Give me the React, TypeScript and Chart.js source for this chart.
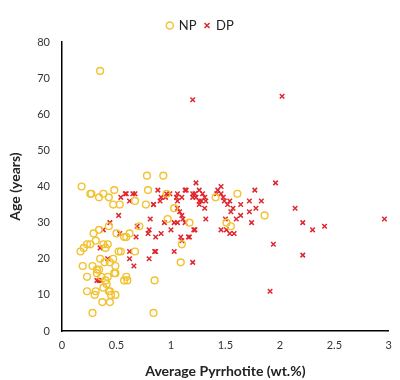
import React, { useEffect, useRef } from "react";
import { Chart, registerables } from "chart.js";

Chart.register(...registerables);

// NP series: [Average Pyrrhotite (wt.%), Age (years)]
const npX = [0.35, 0.78, 0.93, 0.18, 0.26, 0.27, 0.38, 0.34, 0.43, 0.48, 0.47, 0.53, 0.79, 0.67, 0.77, 0.96, 1.03, 0.97, 0.71, 1.17,
  0.29, 0.34, 0.43, 0.50, 0.57, 0.62, 0.59, 0.20, 0.23, 0.17, 0.26, 0.31, 0.38, 0.42, 0.40, 0.52, 0.54, 0.67, 0.19, 0.28,
  0.35, 0.34, 0.39, 0.44, 0.47, 0.49, 0.23, 0.36, 0.42, 0.49, 0.59, 0.57, 0.85, 0.23, 0.31, 0.38, 0.44, 0.30, 0.49, 0.37,
  0.44, 0.28, 0.84, 1.61, 1.41, 1.86, 1.51, 1.55, 1.10, 1.09, 0.32, 0.40, 0.48, 0.41, 0.45, 0.60, 0.32, 0.43];
const npY = [72, 43, 43, 40, 38, 38, 38, 37, 37, 39, 35, 35, 39, 36, 35, 38, 34, 31, 29, 30,
  27, 28, 29, 27, 26, 27, 26, 23, 24, 22, 24, 25, 24, 24, 23, 22, 22, 22, 18, 18,
  20, 17, 19, 19, 20, 18, 15, 15, 15, 16, 15, 14, 14, 11, 11, 12, 11, 10, 10, 8,
  8, 5, 5, 38, 37, 32, 30, 29, 24, 19, 16, 14, 16, 13, 10, 14, 17, 11];

// DP series
const dpX = [1.20, 2.02, 0.54, 0.59, 0.62, 0.67, 0.52, 0.44, 0.38, 0.53, 0.69, 0.81, 0.84, 0.88, 0.90, 0.95, 0.99, 1.06, 1.06, 1.13,
  1.23, 1.20, 0.80, 0.79, 0.86, 0.91, 0.94, 1.00, 0.68, 1.03, 1.06, 1.08, 1.06, 1.11, 1.09, 1.17, 1.21, 0.35, 0.62, 0.62,
  0.80, 0.86, 1.03, 0.42, 0.66, 1.20, 0.32, 0.34, 0.36, 1.46, 1.96, 0.96, 1.14, 1.22, 1.26, 1.29, 1.42, 1.46, 1.77, 0.84,
  0.91, 1.05, 1.10, 1.20, 1.23, 1.26, 1.31, 1.32, 1.26, 1.31, 1.28, 1.49, 1.54, 1.52, 1.72, 1.83, 1.78, 1.72, 1.55, 1.10,
  1.32, 1.50, 1.60, 1.64, 1.74, 2.14, 2.21, 2.30, 2.41, 2.96, 1.13, 1.22, 1.10, 1.16, 1.46, 1.51, 1.54, 1.58, 0.85, 1.94,
  2.21, 1.91, 0.58, 0.65, 1.43, 1.48, 1.64, 1.57];
const dpY = [64, 65, 37, 38, 36, 38, 32, 30, 28, 27, 29, 31, 35, 39, 36, 37, 38, 38, 36, 39,
  41, 38, 28, 27, 26, 27, 30, 28, 26, 30, 30, 33, 34, 31, 26, 26, 28, 23, 22, 20,
  20, 22, 22, 20, 18, 19, 14, 14, 14, 40, 41, 38, 39, 38, 39, 38, 38, 38, 39, 35,
  37, 37, 37, 37, 37, 36, 37, 36, 35, 34, 36, 36, 36, 35, 36, 36, 34, 33, 33, 32,
  31, 31, 31, 32, 30, 34, 30, 28, 29, 31, 30, 28, 25, 26, 28, 28, 27, 27, 22, 24,
  21, 11, 38, 38, 39, 37, 35, 34];

const xTicks = [0, 0.5, 1, 1.5, 2, 2.5, 3];
const yTicks = [0, 10, 20, 30, 40, 50, 60, 70, 80];

const FONT = "Lato, 'Open Sans', sans-serif";

export default function App() {
  const ref = useRef<HTMLCanvasElement | null>(null);
  useEffect(() => {
    if (!ref.current) return;
    const chart = new Chart(ref.current, {
      type: "scatter",
      data: {
        datasets: [
          {
            label: "NP",
            data: npX.map((x, i) => ({ x, y: npY[i] })),
            pointStyle: "circle",
            pointRadius: 3.4,
            borderWidth: 1.4,
            borderColor: "#F2C230",
            backgroundColor: "rgba(255,255,255,0)",
          },
          {
            label: "DP",
            data: dpX.map((x, i) => ({ x, y: dpY[i] })),
            pointStyle: "crossRot",
            pointRadius: 3.2,
            borderWidth: 1.5,
            borderColor: "#E0262E",
            backgroundColor: "#E0262E",
          },
        ],
      },
      options: {
        animation: false,
        responsive: false,
        maintainAspectRatio: false,
        layout: { padding: { left: 7, right: 6, top: 11, bottom: 0 } },
        plugins: {
          legend: {
            position: "top",
            labels: {
              usePointStyle: true,
              boxWidth: 5,
              boxHeight: 5,
              padding: 8,
              color: "#222",
              font: { family: FONT, size: 13 },
            },
          },
          tooltip: { enabled: false },
        },
        scales: {
          x: {
            type: "linear",
            min: 0,
            max: 3,
            afterBuildTicks: (s: any) => { s.ticks = xTicks.map((v) => ({ value: v })); },
            afterFit: (s: any) => { s.height = 49; },
            grid: { display: false, drawTicks: false },
            border: { display: true, color: "#000", width: 1.5 },
            ticks: { color: "#333", font: { family: FONT, size: 11 }, padding: 8, maxRotation: 0, callback: (v: any) => String(v) },
            title: { display: true, text: "Average Pyrrhotite (wt.%)", color: "#222", font: { family: FONT, size: 14, weight: "bold" }, padding: { top: 2, bottom: 0 } },
          },
          y: {
            type: "linear",
            min: 0,
            max: 80,
            afterBuildTicks: (s: any) => { s.ticks = yTicks.map((v) => ({ value: v })); },
            afterFit: (s: any) => { s.width = 55; },
            grid: { display: false, drawTicks: false },
            border: { display: true, color: "#000", width: 1.5 },
            ticks: { color: "#333", font: { family: FONT, size: 11 }, padding: 12 },
            title: { display: true, text: "Age (years)", color: "#222", font: { family: FONT, size: 14, weight: "bold" }, padding: { top: 0, bottom: 4 } },
          },
        },
      },
    });
    return () => chart.destroy();
  }, []);
  return (
    <div style={{ position: "absolute", left: 0, top: 0, width: 400, height: 380, background: "#fff" }}>
      <canvas ref={ref} width={400} height={380} />
    </div>
  );
}
